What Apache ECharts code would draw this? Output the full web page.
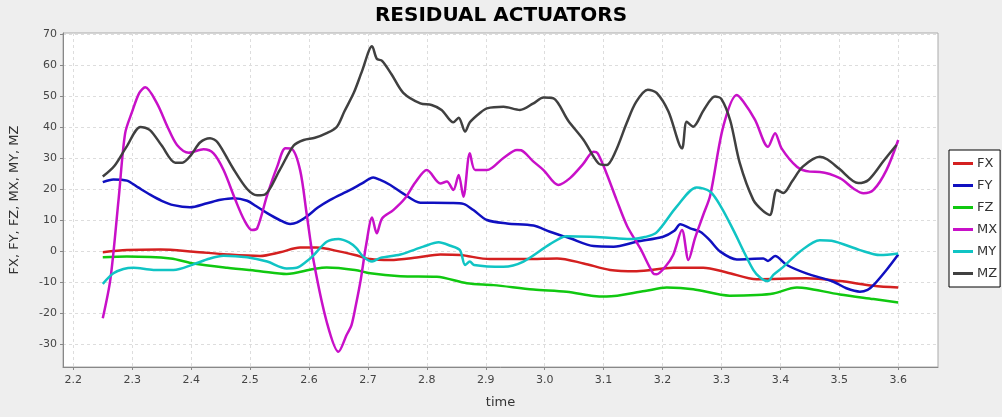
<!DOCTYPE html>
<html>
<head>
<meta charset="utf-8">
<script src="https://cdn.jsdelivr.net/npm/echarts@6/dist/echarts.min.js"></script>
<style>
html,body{margin:0;padding:0;background:#eeeeee;}
#chart{width:1002px;height:417px;}
</style>
</head>
<body>
<div id="chart"></div>
<script>
const seriesNames = ['FX', 'FY', 'FZ', 'MX', 'MY', 'MZ'];
const xTicks = [2.2, 2.3, 2.4, 2.5, 2.6, 2.7, 2.8, 2.9, 3.0, 3.1, 3.2, 3.3, 3.4, 3.5, 3.6];
const yTicks = [-30, -20, -10, 0, 10, 20, 30, 40, 50, 60, 70];

const FX = [[2.25,-0.4],[2.291,0.3],[2.348,0.5],[2.404,-0.2],[2.461,-1.1],[2.517,-1.6],[2.551,-0.4],[2.585,1.1],[2.613,1.1],[2.653,-0.2],[2.678,-1.3],[2.704,-2.6],[2.738,-2.9],[2.783,-2.1],[2.823,-1.1],[2.857,-1.3],[2.907,-2.6],[2.97,-2.6],[3.021,-2.4],[3.066,-4],[3.111,-6.1],[3.156,-6.5],[3.218,-5.4],[3.269,-5.4],[3.309,-6.9],[3.36,-9.1],[3.444,-8.8],[3.501,-9.7],[3.558,-11.2],[3.6,-11.8]];

const FY = [[2.25,22.2],[2.268,23.1],[2.291,22.7],[2.31,20.5],[2.331,18.1],[2.35,16.2],[2.37,14.8],[2.398,14.1],[2.427,15.4],[2.45,16.5],[2.472,17],[2.495,16.2],[2.51,14.5],[2.529,12.2],[2.55,10],[2.568,8.7],[2.58,9.2],[2.596,11.1],[2.615,14],[2.636,16.5],[2.67,19.7],[2.69,21.8],[2.709,23.7],[2.72,23],[2.738,21.3],[2.76,18.5],[2.789,15.6],[2.81,15.6],[2.84,15.5],[2.862,15.2],[2.879,13.2],[2.902,10],[2.936,8.9],[2.981,8.2],[3.009,6.2],[3.043,4.1],[3.083,1.6],[3.117,1.4],[3.156,3],[3.201,4.6],[3.22,6.5],[3.23,8.6],[3.247,7.3],[3.264,6.2],[3.28,3.5],[3.298,-0.2],[3.326,-2.7],[3.371,-2.4],[3.379,-3.2],[3.391,-1.6],[3.411,-4.5],[3.444,-7.2],[3.49,-9.9],[3.512,-12],[3.535,-13.1],[3.548,-12.5],[3.558,-11],[3.58,-6.1],[3.6,-1.1]];

const FZ = [[2.25,-2],[2.291,-1.8],[2.365,-2.4],[2.404,-4],[2.461,-5.4],[2.517,-6.5],[2.562,-7.4],[2.608,-5.8],[2.63,-5.3],[2.678,-6.1],[2.704,-7.2],[2.755,-8.1],[2.817,-8.3],[2.868,-10.4],[2.913,-11],[2.981,-12.4],[3.037,-13.1],[3.083,-14.5],[3.105,-14.7],[3.17,-12.9],[3.207,-11.8],[3.252,-12.3],[3.314,-14.4],[3.36,-14.2],[3.388,-13.7],[3.428,-11.8],[3.444,-12],[3.501,-14],[3.558,-15.5],[3.6,-16.6]];

const MX = [[2.25,-21.7],[2.263,-9],[2.277,17],[2.288,38],[2.30,45],[2.312,51],[2.322,52.8],[2.342,47.6],[2.36,40],[2.376,34.2],[2.396,31.7],[2.421,32.8],[2.438,31.5],[2.455,26.1],[2.475,16.5],[2.49,10],[2.503,6.8],[2.512,7.3],[2.529,18],[2.546,27.2],[2.56,33.1],[2.571,32.9],[2.585,26],[2.596,12],[2.608,-3.4],[2.63,-22.8],[2.65,-32.5],[2.664,-27],[2.672,-24],[2.68,-17],[2.688,-9],[2.697,2],[2.707,10.8],[2.715,5.7],[2.724,10.5],[2.743,13.2],[2.763,17],[2.78,22],[2.80,26.1],[2.823,21.8],[2.834,22.4],[2.845,19.7],[2.854,24.5],[2.862,17.5],[2.873,31.5],[2.882,26.1],[2.902,26.1],[2.93,30],[2.953,32.6],[2.96,32.5],[2.98,29],[2.998,26.1],[3.023,21.3],[3.043,23.5],[3.065,28],[3.083,32],[3.09,31.5],[3.105,25],[3.122,16.5],[3.14,8],[3.162,0.9],[3.184,-7.2],[3.19,-7.5],[3.205,-5],[3.218,-1.3],[3.233,6.8],[3.244,-2.9],[3.255,4.1],[3.269,11.6],[3.281,18],[3.303,40.1],[3.326,50.3],[3.337,48.2],[3.357,42.3],[3.379,33.6],[3.391,38],[3.402,33.1],[3.428,27.2],[3.45,25.6],[3.467,25.5],[3.501,23.5],[3.525,20],[3.541,18.6],[3.558,19.7],[3.58,26.1],[3.6,35.8]];

const MY = [[2.25,-10.6],[2.268,-7.2],[2.285,-5.8],[2.302,-5.4],[2.336,-6.1],[2.37,-6.1],[2.404,-4.3],[2.43,-2.5],[2.455,-1.5],[2.495,-2],[2.529,-3.4],[2.562,-5.6],[2.579,-5.4],[2.595,-3.5],[2.608,-1.3],[2.63,3],[2.65,3.9],[2.668,2.8],[2.68,1],[2.692,-1.8],[2.707,-3.4],[2.721,-2.2],[2.755,-1.1],[2.794,1.4],[2.82,2.8],[2.84,1.7],[2.856,0.3],[2.865,-4.5],[2.873,-3.4],[2.88,-4.5],[2.93,-5.1],[2.964,-3.4],[3.009,2.2],[3.037,4.8],[3.077,4.6],[3.122,4.1],[3.15,3.9],[3.17,4.5],[3.19,6],[3.224,14.3],[3.258,20.5],[3.281,19.1],[3.30,14],[3.32,6.8],[3.354,-6.1],[3.367,-8.8],[3.379,-9.7],[3.388,-7.7],[3.405,-5.1],[3.433,-0.2],[3.467,3.5],[3.487,3.3],[3.535,0.3],[3.569,-1.3],[3.6,-0.8]];

const MZ = [[2.25,24],[2.27,27.5],[2.29,33.5],[2.314,40],[2.33,39],[2.35,34],[2.373,28.5],[2.385,28.5],[2.40,31],[2.415,35],[2.432,36.4],[2.445,35],[2.47,27],[2.495,20],[2.512,18],[2.525,18.2],[2.55,26],[2.574,34],[2.591,35.8],[2.61,36.5],[2.63,38],[2.647,40],[2.66,45],[2.676,51],[2.69,58],[2.707,66],[2.715,62],[2.724,61.3],[2.74,57],[2.76,51],[2.789,47.6],[2.808,47.1],[2.825,45.5],[2.845,41.5],[2.854,43],[2.865,38.5],[2.873,41.5],[2.89,44.5],[2.902,46],[2.93,46.5],[2.958,45.5],[2.98,47.5],[2.998,49.5],[3.015,49.2],[3.04,42],[3.066,35.8],[3.091,28.3],[3.105,27.7],[3.12,32],[3.139,41.2],[3.155,48],[3.175,52],[3.19,51],[3.21,45],[3.233,33.1],[3.241,41.7],[3.252,40.1],[3.27,45.5],[3.289,49.8],[3.30,49],[3.315,42],[3.331,28.4],[3.354,16.5],[3.37,13],[3.382,11.6],[3.394,19.7],[3.405,18.7],[3.42,22.5],[3.438,27.2],[3.467,30.4],[3.48,29.5],[3.5,26.5],[3.532,21.9],[3.55,23],[3.575,29],[3.597,34.2]];

const seriesData = [FX, FY, FZ, MX, MY, MZ];
const colors = ['#d42020', '#1010c0', '#10c810', '#c810c8', '#10c4c4', '#404040'];

const chart = echarts.init(document.getElementById('chart'), null, {renderer: 'canvas'});
const font = 'DejaVu Sans';

chart.setOption({
  animation: false,
  backgroundColor: '#eeeeee',
  color: colors,
  title: {
    text: 'RESIDUAL ACTUATORS',
    left: 'center',
    top: 1,
    textStyle: {fontFamily: 'DejaVu Sans', fontWeight: 'bold', fontSize: 20, color: '#000'}
  },
  legend: {
    orient: 'vertical',
    left: 949,
    top: 150,
    data: seriesNames,
    icon: 'rect',
    itemWidth: 20,
    itemHeight: 3,
    itemGap: 9,
    padding: [7, 3, 7, 4],
    backgroundColor: '#ffffff',
    borderColor: '#000000',
    borderWidth: 1,
    textStyle: {fontFamily: font, fontSize: 13, color: '#333', padding: [0, 0, 0, -1]}
  },
  grid: {
    left: 63, right: 64, top: 33, bottom: 50,
    show: true, backgroundColor: '#ffffff', borderColor: '#aaaaaa', borderWidth: 1,
    containLabel: false
  },
  xAxis: {
    type: 'value',
    min: 2.1825,
    max: 3.6675,
    name: 'time',
    nameLocation: 'middle',
    nameGap: 29,
    nameTextStyle: {fontFamily: font, fontSize: 13, color: '#333'},
    axisLine: {show: true, onZero: false, lineStyle: {color: '#888888'}},
    axisTick: {show: true, length: 3, inside: false, customValues: xTicks, lineStyle: {color: '#888888'}},
    axisLabel: {customValues: xTicks, fontFamily: font, fontSize: 11, color: '#444', margin: 8,
      formatter: v => v.toFixed(1)},
    splitLine: {show: true, lineStyle: {color: '#dddddd', type: [3, 3], width: 1}}
  },
  yAxis: {
    type: 'value',
    min: -37.4,
    max: 70.3,
    name: 'FX, FY, FZ, MX, MY, MZ',
    nameLocation: 'middle',
    nameGap: 42,
    nameTextStyle: {fontFamily: font, fontSize: 13, color: '#333'},
    axisLine: {show: true, onZero: false, lineStyle: {color: '#888888'}},
    axisTick: {show: true, length: 3, inside: false, customValues: yTicks, lineStyle: {color: '#888888'}},
    axisLabel: {customValues: yTicks, fontFamily: font, fontSize: 11, color: '#444', margin: 6},
    splitLine: {show: true, lineStyle: {color: '#dddddd', type: [3, 3], width: 1}}
  },
  series: seriesNames.map((n, i) => ({
    name: n,
    type: 'line',
    data: seriesData[i],
    showSymbol: false,
    symbol: 'none',
    smooth: 0.3,
    lineStyle: {width: 2.5, color: colors[i]},
    z: 2 + i
  }))
});
</script>
</body>
</html>
